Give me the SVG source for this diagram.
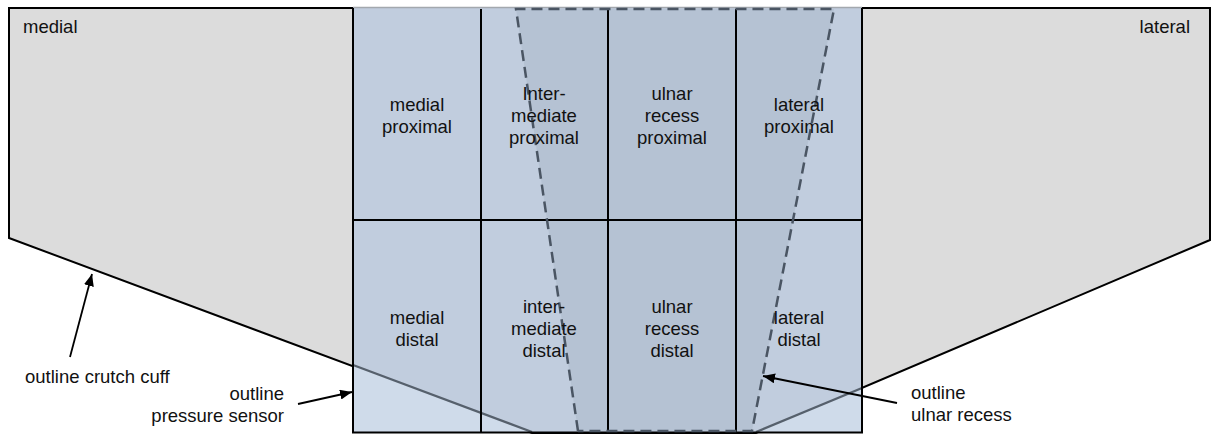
<svg xmlns="http://www.w3.org/2000/svg" width="1212" height="437" viewBox="0 0 1212 437">
  <defs>
    <style>
      text { font-family: "Liberation Sans", Arial, sans-serif; font-size: 18.5px; fill: #111; }
      .c { text-anchor: middle; }
      .r { text-anchor: end; }
      .grid { stroke: #000; stroke-width: 2; fill: none; }
      .dash { stroke: #4a5563; stroke-width: 2.5; stroke-dasharray: 11 6; fill: none; }
      .cuffin { stroke: #56606c; stroke-width: 2.3; fill: none; }
      .arrow { stroke: #000; stroke-width: 1.8; fill: none; marker-end: url(#ah); }
    </style>
    <marker id="ah" markerUnits="userSpaceOnUse" markerWidth="13" markerHeight="10" refX="12" refY="5" orient="auto">
      <path d="M0,0 L12,5 L0,10 z" fill="#000"/>
    </marker>
  </defs>
  <rect width="1212" height="437" fill="#fff"/>

  <g id="cuff">
    <polygon points="9,8 1210,8 1210,240 756,433 532,433 9,238" fill="#dcdcdc" stroke="#000" stroke-width="2" stroke-linejoin="miter"/>
    <text x="23" y="33">medial</text>
    <text class="r" x="1190" y="33">lateral</text>
  </g>

  <g id="sensor">
    <rect x="353" y="8" width="509" height="424" fill="#c1cdde"/>
    <polygon points="353,365 532,432 353,432" fill="#cfdbea"/>
    <polygon points="862,388 756,432 862,432" fill="#cfdbea"/>
    <line x1="353" y1="7.5" x2="862" y2="7.5" stroke="#a3a8ae" stroke-width="1.5"/>
  </g>

  <g id="ulnar-recess">
    <polygon points="516,9 834,9 752,431 578,431" fill="#b5c2d3"/>
  </g>

  <g id="cuff-outline-through">
    <line class="cuffin" x1="353" y1="365" x2="532" y2="432"/>
    <line class="cuffin" x1="862" y1="388" x2="756" y2="432"/>
  </g>

  <g id="grid">
    <line class="grid" x1="353" y1="8" x2="353" y2="433"/>
    <line class="grid" x1="862" y1="8" x2="862" y2="433"/>
    <line class="grid" x1="481" y1="9" x2="481" y2="432"/>
    <line class="grid" x1="608" y1="9" x2="608" y2="432"/>
    <line class="grid" x1="736" y1="9" x2="736" y2="432"/>
    <line class="grid" x1="353" y1="220" x2="862" y2="220"/>
    <line class="grid" x1="352" y1="432.5" x2="863" y2="432.5"/>
  </g>

  <g id="ulnar-recess-outline">
    <polyline class="dash" points="578,431 516,9 834,9 752,431 578,431"/>
  </g>

  <g id="cell-medial-proximal">
    <text class="c" x="417" y="111">medial</text>
    <text class="c" x="417" y="133">proximal</text>
  </g>
  <g id="cell-intermediate-proximal">
    <text class="c" x="544" y="100">Inter-</text>
    <text class="c" x="544" y="122">mediate</text>
    <text class="c" x="544" y="144">proximal</text>
  </g>
  <g id="cell-ulnar-recess-proximal">
    <text class="c" x="672" y="100">ulnar</text>
    <text class="c" x="672" y="122">recess</text>
    <text class="c" x="672" y="144">proximal</text>
  </g>
  <g id="cell-lateral-proximal">
    <text class="c" x="799" y="111">lateral</text>
    <text class="c" x="799" y="133">proximal</text>
  </g>
  <g id="cell-medial-distal">
    <text class="c" x="417" y="324">medial</text>
    <text class="c" x="417" y="346">distal</text>
  </g>
  <g id="cell-intermediate-distal">
    <text class="c" x="544" y="313">inter-</text>
    <text class="c" x="544" y="335">mediate</text>
    <text class="c" x="544" y="357">distal</text>
  </g>
  <g id="cell-ulnar-recess-distal">
    <text class="c" x="672" y="313">ulnar</text>
    <text class="c" x="672" y="335">recess</text>
    <text class="c" x="672" y="357">distal</text>
  </g>
  <g id="cell-lateral-distal">
    <text class="c" x="799" y="324">lateral</text>
    <text class="c" x="799" y="346">distal</text>
  </g>

  <g id="label-crutch-cuff">
    <text x="25" y="383">outline crutch cuff</text>
  </g>
  <g id="label-pressure-sensor">
    <text class="r" x="284" y="400">outline</text>
    <text class="r" x="284" y="422">pressure sensor</text>
  </g>
  <g id="label-ulnar-recess">
    <text x="911" y="399">outline</text>
    <text x="911" y="421">ulnar recess</text>
  </g>

  <g id="connectors">
    <line class="arrow" x1="70" y1="357" x2="92" y2="274"/>
    <line class="arrow" x1="298" y1="404" x2="352" y2="392"/>
    <line class="arrow" x1="897" y1="403" x2="763" y2="376"/>
  </g>
</svg>
